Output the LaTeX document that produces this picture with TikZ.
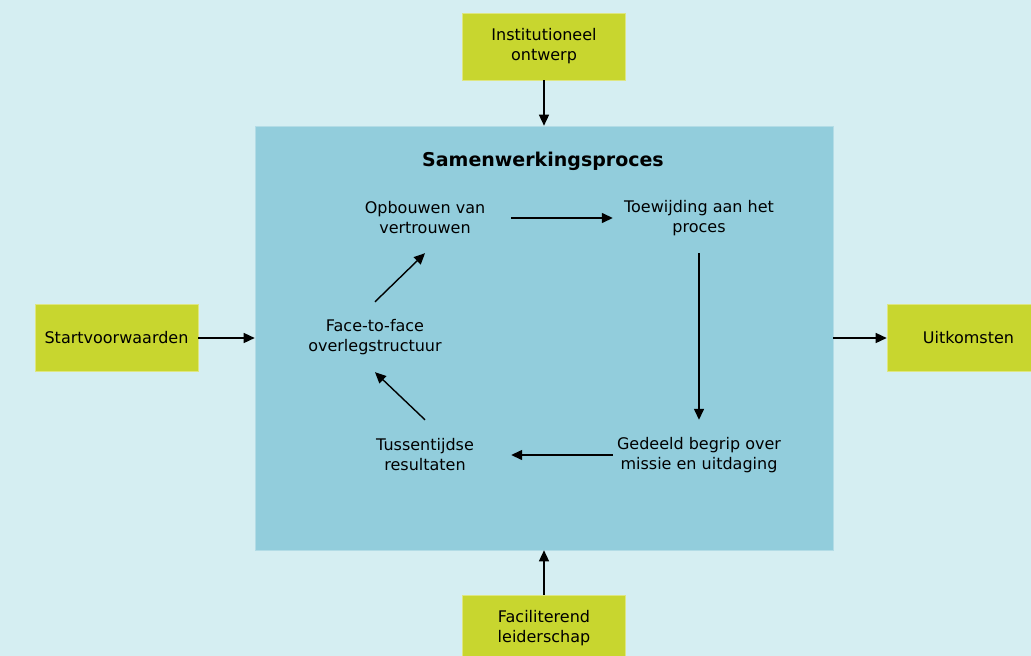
\documentclass[tikz,border=0pt]{standalone}
\usepackage{fontspec}
\setmainfont{DejaVu Sans}
\usetikzlibrary{arrows.meta}
\definecolor{bgblue}{HTML}{D5EEF2}
\definecolor{procblue}{HTML}{92CDDC}
\definecolor{limegreen}{HTML}{C8D62F}
\tikzset{
  factor box/.style={fill=limegreen, draw=limegreen!60!white, line width=0.6pt, minimum width=163pt, minimum height=67pt, align=center, font=\fontsize{16}{20}\selectfont},
  cycle step/.style={minimum width=172pt, minimum height=70pt, align=center, inner sep=0pt, font=\fontsize{16}{20}\selectfont},
  flow/.style={-{Triangle[length=11pt,width=10pt]}, line width=1.4pt},
}
\begin{document}
\begin{tikzpicture}[x=1pt, y=-1pt]
  \useasboundingbox (0,0) rectangle (1031,656);
  \clip (0,0) rectangle (1031,656);
  \fill[bgblue] (0,0) rectangle (1031,656);
  \node[fill=procblue, draw=procblue!70!white, line width=0.6pt, minimum width=578pt, minimum height=424pt] (proc) at (544,338) {};
  \node[font=\fontsize{19}{20}\selectfont\bfseries] (title) at (543,161) {Samenwerkingsproces};
  \node[factor box] (inst) at (544,46.5) {Institutioneel\\ontwerp};
  \node[factor box] (start) at (116.5,338) {Startvoorwaarden};
  \node[factor box] (uit) at (968.5,338) {Uitkomsten};
  \node[factor box] (fac) at (544,628.5) {Faciliterend\\leiderschap};
  \node[cycle step] (op) at (425,218) {Opbouwen van\\vertrouwen};
  \node[cycle step] (toe) at (699,218) {Toewijding aan het\\proces};
  \node[cycle step] (ged) at (699,455) {Gedeeld begrip over\\missie en uitdaging};
  \node[cycle step] (tus) at (425,455) {Tussentijdse\\resultaten};
  \node[cycle step] (face) at (375,337) {Face-to-face\\overlegstructuur};
  \draw[flow] (inst.south) -- (proc.north);
  \draw[flow] (start.east) -- (proc.west);
  \draw[flow] (proc.east) -- (uit.west);
  \draw[flow] (fac.north) -- (proc.south);
  \draw[flow] (op.east) -- (toe.west);
  \draw[flow] (toe.south) -- (ged.north);
  \draw[flow] (ged.west) -- (tus.east);
  \draw[flow] (tus.north) -- (face.south);
  \draw[flow] (face.north) -- (op.south);
\end{tikzpicture}
\end{document}
